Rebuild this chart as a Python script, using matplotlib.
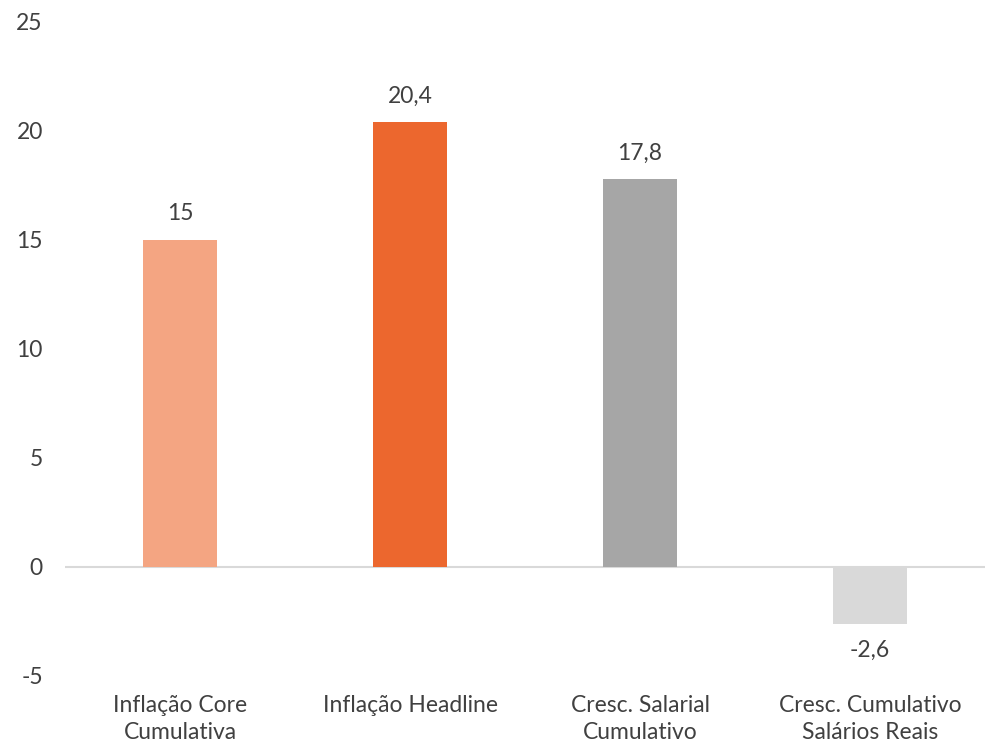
import matplotlib.pyplot as plt

categorias = ['Inflação Core\nCumulativa', 'Inflação Headline',
              'Cresc. Salarial\nCumulativo', 'Cresc. Cumulativo\nSalários Reais']
valores = [15, 20.4, 17.8, -2.6]
rotulos = ['15', '20,4', '17,8', '-2,6']
cores = ['#F4A582', '#EC672E', '#A6A6A6', '#D9D9D9']
yticks = [-5, 0, 5, 10, 15, 20, 25]

plt.rcParams['font.family'] = ['Lato', 'DejaVu Sans']
texto = '#404040'
fs = 16.5

fig = plt.figure(figsize=(9.85, 7.46), dpi=100)
ax = fig.add_axes([0.066, 0.094, 0.934, 0.877])

x = range(len(categorias))
ax.bar(x, valores, width=0.32, color=cores, zorder=2)
ax.axhline(0, color='#D9D9D9', linewidth=1.5, zorder=1)

# rótulos de valor acima / abaixo das barras
for xi, v, r in zip(x, valores, rotulos):
    if v >= 0:
        ax.annotate(r, (xi, v), xytext=(0, 11), textcoords='offset points',
                    ha='center', va='bottom', fontsize=fs, color=texto)
    else:
        ax.annotate(r, (xi, v), xytext=(0, -12), textcoords='offset points',
                    ha='center', va='top', fontsize=fs, color=texto)

ax.set_xlim(-0.5, 3.5)
ax.set_ylim(-5, 25)
ax.set_yticks(yticks)
ax.set_yticklabels([str(t) for t in yticks])
ax.set_xticks(list(x))
ax.set_xticklabels(categorias, linespacing=1.35)
ax.tick_params(axis='y', length=0, pad=16, labelsize=fs, labelcolor=texto)
ax.tick_params(axis='x', length=0, pad=14, labelsize=fs, labelcolor=texto)
for s in ax.spines.values():
    s.set_visible(False)

fig.savefig('out.png', dpi=100)
